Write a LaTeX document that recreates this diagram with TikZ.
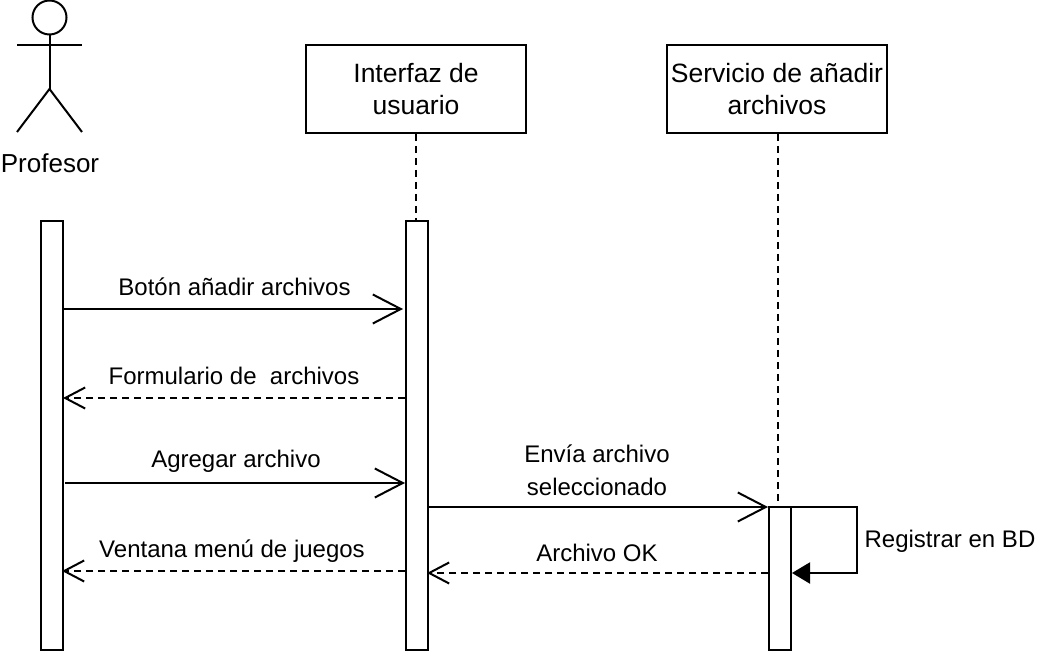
\documentclass[tikz,border=0pt]{standalone}
\usepackage{fontspec}
\setmainfont{Liberation Sans}
\usetikzlibrary{arrows.meta,calc}
\tikzset{
  x=1pt,y=-1pt,
  line/.style={line width=2pt,black},
  boxnode/.style={draw,line width=2pt,fill=white,minimum width=220pt,minimum height=88pt,inner sep=0pt,align=center,font=\fontsize{26.5}{32.5}\selectfont},
  barnode/.style={draw,line width=2pt,fill=white,minimum width=22pt,inner sep=0pt},
  lbl/.style={inner sep=0pt,align=center,text=black,font=\fontsize{24}{33}\selectfont},
  msg/.style={line,-{Straight Barb[length=28pt,width=29pt,line width=2pt]}},
  ret/.style={line,dash pattern=on 7pt off 5pt,-{Straight Barb[length=20pt,width=21pt,line width=2pt]}},
  life/.style={line,dash pattern=on 7pt off 5pt},
  selfmsg/.style={line,-{Triangle[length=18pt,width=21pt]}}
}
\begin{document}
\begin{tikzpicture}
\useasboundingbox (0,0) rectangle (1039,652);
% actor
\node[circle,draw,line width=2pt,minimum size=34pt,inner sep=0pt] (head) at (49.5,17.5) {};
\coordinate (neck) at (49.5,89);
\coordinate (armL) at (17,45);
\coordinate (armR) at (82,45);
\coordinate (legL) at (17,132);
\coordinate (legR) at (82,132);
\draw[line] (head.south) -- (neck);
\draw[line] (armL) -- (armR);
\draw[line] (legL) -- (neck) -- (legR);
\node[lbl,font=\fontsize{26}{32}\selectfont] (prof) at (50,163) {Profesor};
% boxes
\node[boxnode] (ui) at (416,89) {Interfaz de\\usuario};
\node[boxnode] (srv) at (777,89) {Servicio de añadir\\archivos};
% bars
\node[barnode,minimum height=429pt] (barA) at (52,435.5) {};
\node[barnode,minimum height=429pt] (barB) at (417,435.5) {};
\node[barnode,minimum height=143pt] (barC) at (780,578.5) {};
% lifelines
\coordinate (lifeB) at (416,221);
\coordinate (lifeC) at (778,507);
\draw[life] (ui.south -| lifeB) -- (lifeB);
\draw[life] (srv.south -| lifeC) -- (lifeC);
% messages
\coordinate (m1a) at (63,309); \coordinate (m1b) at (403,309);
\coordinate (m2a) at (405,398); \coordinate (m2b) at (63,398);
\coordinate (m3a) at (65,483); \coordinate (m3b) at (405,483);
\coordinate (m4a) at (428,507); \coordinate (m4b) at (768,507);
\coordinate (m5a) at (768,573); \coordinate (m5b) at (427,573);
\coordinate (m6a) at (405,571); \coordinate (m6b) at (62,571);
\coordinate (s1) at (790,507); \coordinate (s2) at (857,507);
\coordinate (s3) at (857,573); \coordinate (s4) at (792,573);
\draw[msg] (m1a) -- (m1b);
\draw[ret] (m2a) -- (m2b);
\draw[msg] (m3a) -- (m3b);
\draw[msg] (m4a) -- (m4b);
\draw[ret] (m5a) -- (m5b);
\draw[ret] (m6a) -- (m6b);
\draw[selfmsg] (s1) -- (s2) -- (s3) -- (s4);
% labels
\node[lbl] (l1) at (234.5,287) {Botón añadir archivos};
\node[lbl] (l2) at (234,376) {Formulario de\ \ archivos};
\node[lbl] (l3) at (236,461) {Agregar archivo};
\node[lbl] (l4) at (597,470) {Envía archivo\\seleccionado};
\node[lbl] (l5) at (597,553) {Archivo OK};
\node[lbl] (l6) at (232,551.5) {Ventana menú de juegos};
\node[lbl] (l7) at (950,541) {Registrar en BD};
\end{tikzpicture}
\end{document}
